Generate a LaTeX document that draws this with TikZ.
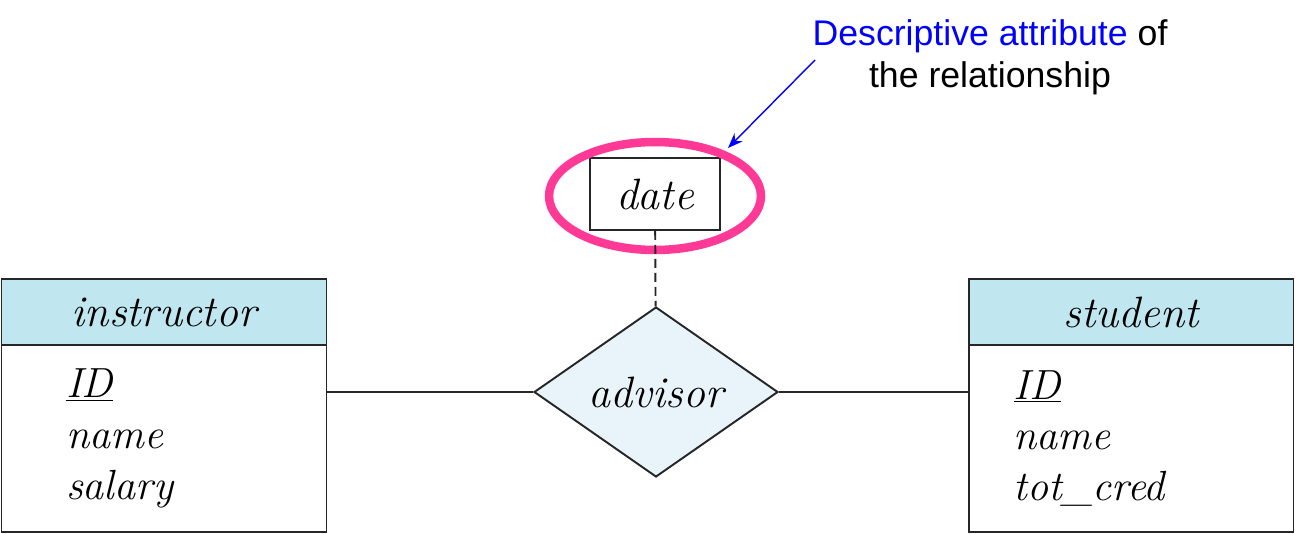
\documentclass[tikz,border=0pt]{standalone}
\usepackage{fontspec}
\newfontfamily\notefont{Liberation Sans}
\usetikzlibrary{positioning,shapes.geometric,arrows.meta}

\definecolor{headblue}{RGB}{192,230,240}
\definecolor{relblue}{RGB}{232,244,250}
\definecolor{ringpink}{RGB}{255,58,150}

\tikzset{
  erfont/.style={font=\fontsize{25}{28.5}\selectfont\itshape},
  enthead/.style={draw=black!85, line width=1.1pt, fill=headblue, outer sep=0pt,
    minimum width=6.5cm, minimum height=1.32cm, inner sep=0pt, erfont},
  entattr/.style={draw=black!85, line width=1.1pt, fill=white, outer sep=0pt,
    minimum width=6.5cm, minimum height=3.74cm, inner sep=0pt, align=left,
    font=\fontsize{24}{28.8}\selectfont\itshape},
  relship/.style={diamond, draw=black!85, line width=1.1pt, fill=relblue, aspect=1.435,
    minimum width=4.88cm, minimum height=3.4cm, inner sep=0pt, erfont},
  attrbox/.style={draw=black!85, line width=1.1pt, fill=white,
    minimum width=2.6cm, minimum height=1.44cm, inner sep=0pt, erfont},
  ring/.style={ellipse, draw=ringpink, line width=0.17cm, minimum width=4.24cm, minimum height=2.16cm},
  erline/.style={draw=black!85, line width=1.1pt},
  notearrow/.style={draw=blue, line width=0.8pt, -{Stealth[length=3mm,width=2.3mm]}}
}

\begin{document}
\begin{tikzpicture}[x=0.02cm, y=-0.02cm]
  \useasboundingbox (0,0) rectangle (1298,534);

  % entities
  \node[enthead] (instr) at (164,312) {instructor};
  \node[entattr, below=0pt of instr, text width=3.92cm] (instrattr) {\underline{ID}\\name\\salary};
  \node[enthead] (stud) at (1131,312) {student};
  \node[entattr, below=0pt of stud, text width=4.7cm] (studattr) {\underline{ID}\\name\\tot\_cred};

  % relationship and its attribute
  \node[relship] (adv) at (656,392) {advisor};
  \node[attrbox] (date) at (655,194) {date};
  \node[ring] (hl) at (655,196) {};

  \draw[erline] (instrattr.east |- adv.west) -- (adv.west);
  \draw[erline] (adv.east) -- (studattr.west |- adv.east);
  \draw[erline, dash pattern=on 0.18cm off 0.1cm] (date) -- (adv);

  % annotation
  \node[align=center, font=\fontsize{20.3}{24}\selectfont\notefont] (note) at (990,57)
    {\textcolor{blue}{Descriptive attribute} of\\the relationship};
  \coordinate (tail) at (815,60);
  \coordinate (tip) at (728,148);
  \draw[notearrow] (tail) -- (tip);
\end{tikzpicture}
\end{document}
